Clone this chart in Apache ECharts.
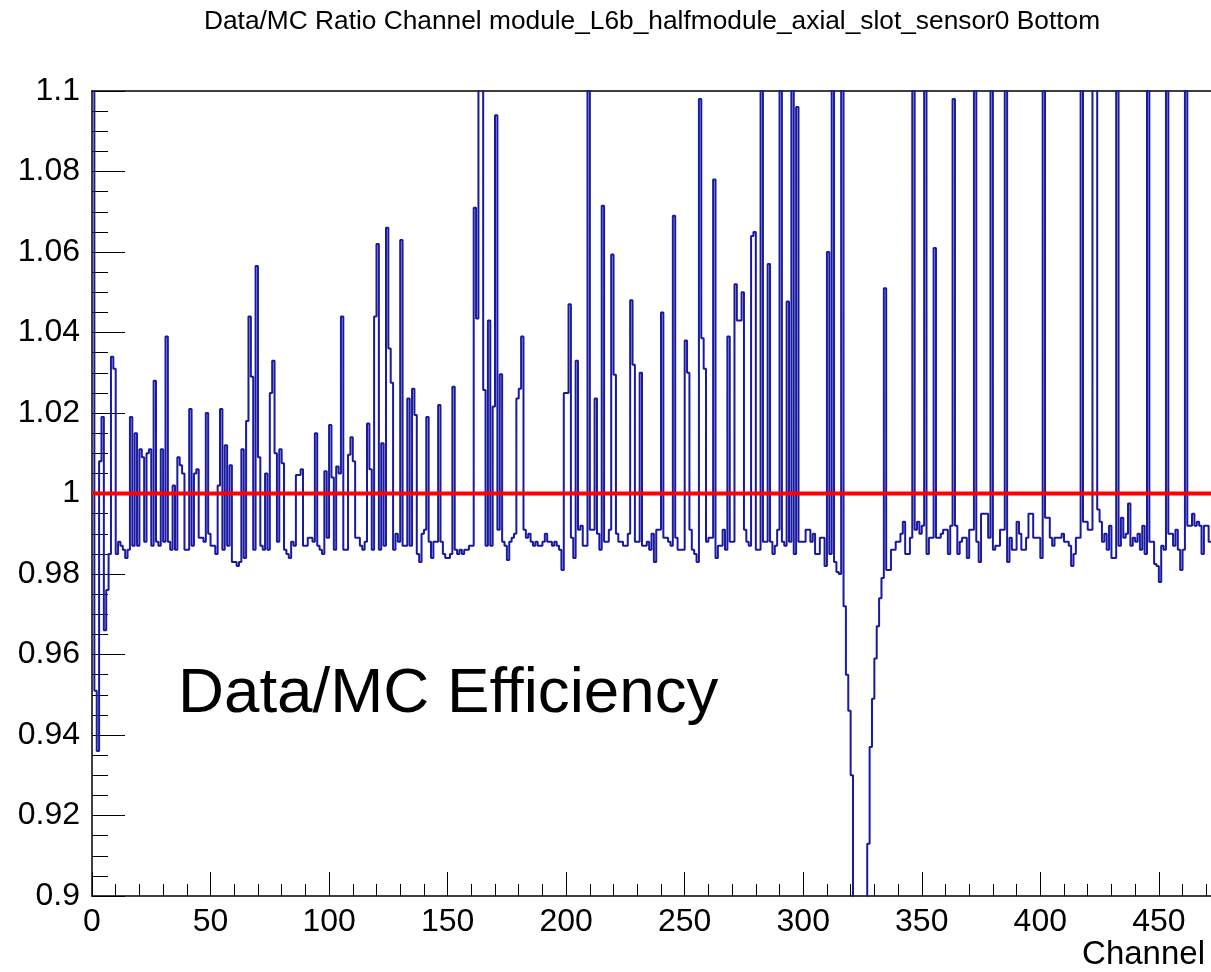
<!DOCTYPE html>
<html>
<head>
<meta charset="utf-8">
<script src="https://cdn.jsdelivr.net/npm/echarts@6/dist/echarts.min.js"></script>
<style>
  html, body { margin: 0; padding: 0; background: #ffffff; }
  #chart { width: 1211px; height: 972px; }
</style>
</head>
<body>
<div id="chart"></div>
<script>
// ---- Data (Data/MC ratio per channel) ----
const chartTitle = 'Data/MC Ratio Channel module_L6b_halfmodule_axial_slot_sensor0 Bottom';
const xAxisTitle = 'Channel';
const innerLabel = 'Data/MC Efficiency';
const xTickValues = [0, 50, 100, 150, 200, 250, 300, 350, 400, 450];
const yTickValues = [0.9, 0.92, 0.94, 0.96, 0.98, 1, 1.02, 1.04, 1.06, 1.08, 1.1];
const referenceLevel = 1.0;

const ratioCh000 = [1.15, 0.951, 0.936, 1.008, 1.019, 0.966, 0.976, 0.985, 1.034, 1.031,
  0.985, 0.988, 0.987, 0.986, 0.984, 0.986, 1.019, 0.987, 1.015, 0.987,
  1.011, 1.009, 0.988, 1.010, 1.011, 0.987, 1.028, 0.988, 0.987, 1.011,
  0.988, 1.039, 0.988, 0.986, 1.002, 0.986, 1.009, 1.007, 1.005, 0.986,
  0.986, 1.021, 0.987, 1.005, 1.006, 0.989, 0.989, 0.988, 1.020, 0.990];
const ratioCh050 = [0.987, 0.987, 0.985, 1.002, 1.021, 0.986, 1.012, 0.987, 1.007, 0.983,
  0.983, 0.982, 0.983, 1.011, 0.984, 1.018, 1.044, 1.029, 0.986, 1.0565,
  1.009, 0.987, 0.986, 1.005, 0.986, 1.025, 1.033, 1.010, 0.988, 1.011,
  1.0075, 0.986, 0.985, 0.984, 0.988, 0.987, 1.0046, 1.0046, 1.006, 0.987,
  0.987, 0.989, 0.989, 0.988, 1.015, 0.987, 0.986, 0.985, 1.0055, 0.989];
const ratioCh100 = [1.017, 1.004, 0.986, 1.0067, 1.005, 1.044, 0.986, 0.986, 1.0096, 1.014,
  1.008, 0.989, 0.989, 0.987, 0.986, 0.988, 1.0174, 1.006, 0.986, 1.044,
  1.062, 0.986, 1.0125, 0.987, 1.066, 1.036, 1.0275, 0.986, 0.990, 0.988,
  1.063, 0.987, 0.987, 1.0236, 0.987, 1.026, 1.0195, 0.985, 0.983, 0.990,
  0.991, 1.019, 0.988, 0.984, 0.988, 0.988, 1.022, 0.988, 0.985, 0.984];
const ratioCh150 = [0.984, 0.985, 1.0265, 0.986, 0.985, 0.986, 0.985, 0.986, 0.986, 0.987,
  0.987, 1.071, 1.0435, 1.13, 1.13, 1.0257, 0.987, 1.043, 0.987, 1.0216,
  1.094, 0.991, 1.0296, 0.988, 0.987, 0.9835, 0.988, 0.989, 0.990, 1.0236,
  1.026, 1.039, 0.991, 0.989, 0.990, 0.988, 0.987, 0.988, 0.987, 0.987,
  0.988, 0.990, 0.988, 0.988, 0.987, 0.988, 0.987, 0.986, 0.981, 1.025];
const ratioCh200 = [1.025, 1.047, 0.989, 0.984, 1.033, 0.991, 0.992, 0.987, 0.987, 1.13,
  0.991, 0.991, 1.0236, 0.990, 0.986, 1.0715, 0.988, 0.988, 0.991, 1.0594,
  1.0295, 0.990, 0.988, 0.988, 0.987, 0.987, 0.990, 1.048, 1.032, 0.988,
  0.988, 1.030, 0.987, 0.987, 0.988, 0.986, 0.990, 0.983, 0.991, 0.991,
  1.045, 0.989, 0.989, 0.988, 0.987, 1.069, 0.989, 0.986, 0.986, 0.986];
const ratioCh250 = [1.038, 1.030, 0.991, 0.986, 0.985, 0.983, 1.098, 1.0386, 1.031, 0.988,
  0.989, 0.989, 1.078, 0.984, 0.987, 0.987, 0.991, 0.986, 1.039, 0.988,
  0.988, 1.052, 1.043, 1.043, 1.050, 0.991, 0.988, 0.987, 1.064, 1.065,
  0.986, 0.986, 1.13, 0.988, 0.988, 1.057, 0.988, 0.985, 0.987, 0.991,
  1.13, 0.988, 0.987, 1.0477, 0.988, 1.13, 0.985, 1.096, 0.988, 0.988];
const ratioCh300 = [0.988, 0.991, 0.991, 0.988, 0.990, 0.985, 0.985, 0.989, 0.989, 0.982,
  1.060, 0.985, 1.13, 0.983, 0.9805, 0.980, 1.13, 0.972, 0.955, 0.946,
  0.930, 0.88, 0.88, 0.88, 0.88, 0.88, 0.88, 0.913, 0.937, 0.949,
  0.959, 0.967, 0.974, 0.979, 1.051, 0.981, 0.981, 0.986, 0.986, 0.988,
  0.988, 0.990, 0.993, 0.985, 0.985, 0.989, 1.13, 0.991, 0.993, 0.990];
const ratioCh350 = [0.992, 1.13, 0.985, 0.989, 0.989, 1.061, 0.989, 0.989, 0.990, 0.991,
  0.991, 0.985, 0.992, 1.098, 0.992, 0.985, 0.988, 0.989, 0.989, 0.984,
  0.991, 0.991, 1.13, 0.988, 0.983, 0.995, 0.995, 0.995, 0.989, 1.13,
  0.986, 0.987, 0.987, 0.991, 0.991, 1.13, 0.983, 0.989, 0.986, 0.986,
  0.993, 0.990, 0.986, 0.986, 0.989, 0.995, 0.995, 0.989, 0.989, 0.989];
const ratioCh400 = [0.984, 1.13, 0.994, 0.994, 0.989, 0.987, 0.989, 0.989, 0.989, 0.990,
  0.988, 0.988, 0.987, 0.982, 0.985, 0.989, 0.989, 1.13, 0.993, 0.993,
  0.991, 0.991, 1.13, 1.13, 0.996, 0.993, 0.988, 0.990, 0.986, 0.992,
  0.984, 0.984, 1.13, 0.987, 0.994, 0.989, 0.990, 0.9975, 0.987, 0.989,
  0.988, 0.990, 0.986, 0.992, 0.985, 1.13, 0.988, 0.988, 0.9825, 0.982];
const ratioCh450 = [0.978, 0.987, 0.986, 1.13, 0.990, 0.990, 0.987, 0.991, 0.986, 0.981,
  0.986, 1.13, 0.992, 0.992, 0.995, 0.992, 0.993, 0.992, 0.985, 0.992,
  0.992, 0.988];

const ratio = [].concat(ratioCh000, ratioCh050, ratioCh100, ratioCh150, ratioCh200,
  ratioCh250, ratioCh300, ratioCh350, ratioCh400, ratioCh450);
const xMax = ratio.length; // channel axis end

// histogram outline: each bin drawn as a step from its low edge to its high edge
const histPoints = ratio.map((v, i) => [i, v]);
histPoints.push([xMax, ratio[ratio.length - 1]]);

const chart = echarts.init(document.getElementById('chart'), null, { renderer: 'canvas' });
const labelFont = 'Liberation Sans, Arial, Helvetica, sans-serif';

chart.setOption({
  animation: false,
  backgroundColor: '#ffffff',
  grid: { left: 92, top: 91, right: 0, bottom: 76, containLabel: false },
  xAxis: [{
    type: 'value', min: 0, max: xMax, interval: 50,
    axisLine: { show: true, lineStyle: { color: '#000', width: 1.5 } },
    axisTick: { show: true, inside: true, length: 24, lineStyle: { color: '#000', width: 1 } },
    minorTick: { show: true, splitNumber: 5, length: 12, lineStyle: { color: '#000', width: 1 } },
    splitLine: { show: false },
    axisLabel: {
      show: true, margin: 10, color: '#000', fontSize: 32, fontFamily: labelFont,
      showMaxLabel: false,
      formatter: v => (xTickValues.indexOf(Math.round(v)) >= 0 && Math.abs(v - Math.round(v)) < 1e-6) ? String(Math.round(v)) : ''
    }
  }, {
    type: 'value', min: 0, max: xMax, position: 'top',
    axisLine: { show: true, onZero: false, lineStyle: { color: '#000', width: 1.5 } },
    axisTick: { show: false }, axisLabel: { show: false }, splitLine: { show: false }
  }],
  yAxis: {
    type: 'value', min: 0.9, max: 1.1, interval: 0.02,
    axisLine: { show: true, lineStyle: { color: '#000', width: 1.5 } },
    axisTick: { show: true, inside: true, length: 33, lineStyle: { color: '#000', width: 1 } },
    minorTick: { show: true, splitNumber: 4, length: 16, lineStyle: { color: '#000', width: 1 } },
    splitLine: { show: false },
    axisLabel: {
      show: true, margin: 12, color: '#000', fontSize: 32, fontFamily: labelFont,
      formatter: v => {
        const r = Number(v.toFixed(3));
        return yTickValues.some(t => Math.abs(t - r) < 1e-6) ? String(r) : '';
      }
    }
  },
  series: [{
    type: 'line', xAxisIndex: 0, step: 'end', symbol: 'none', clip: true,
    data: histPoints,
    lineStyle: { color: '#1a1aa0', width: 2 },
    z: 2
  }, {
    type: 'line', xAxisIndex: 0, symbol: 'none', clip: true,
    data: [[0, referenceLevel], [xMax, referenceLevel]],
    lineStyle: { color: '#ff0000', width: 4 },
    z: 3
  }],
  graphic: [{
    type: 'text', x: 652, y: 22,
    style: { text: chartTitle, fill: '#000', font: '26.3px ' + labelFont, textAlign: 'center', textVerticalAlign: 'middle' }
  }, {
    type: 'text', x: 178, y: 694,
    style: { text: innerLabel, fill: '#000', font: '63.7px ' + labelFont, textAlign: 'left', textVerticalAlign: 'middle' }
  }, {
    type: 'text', x: 1205, y: 955,
    style: { text: xAxisTitle, fill: '#000', font: '33px ' + labelFont, textAlign: 'right', textVerticalAlign: 'middle' }
  }]
});
</script>
</body>
</html>
